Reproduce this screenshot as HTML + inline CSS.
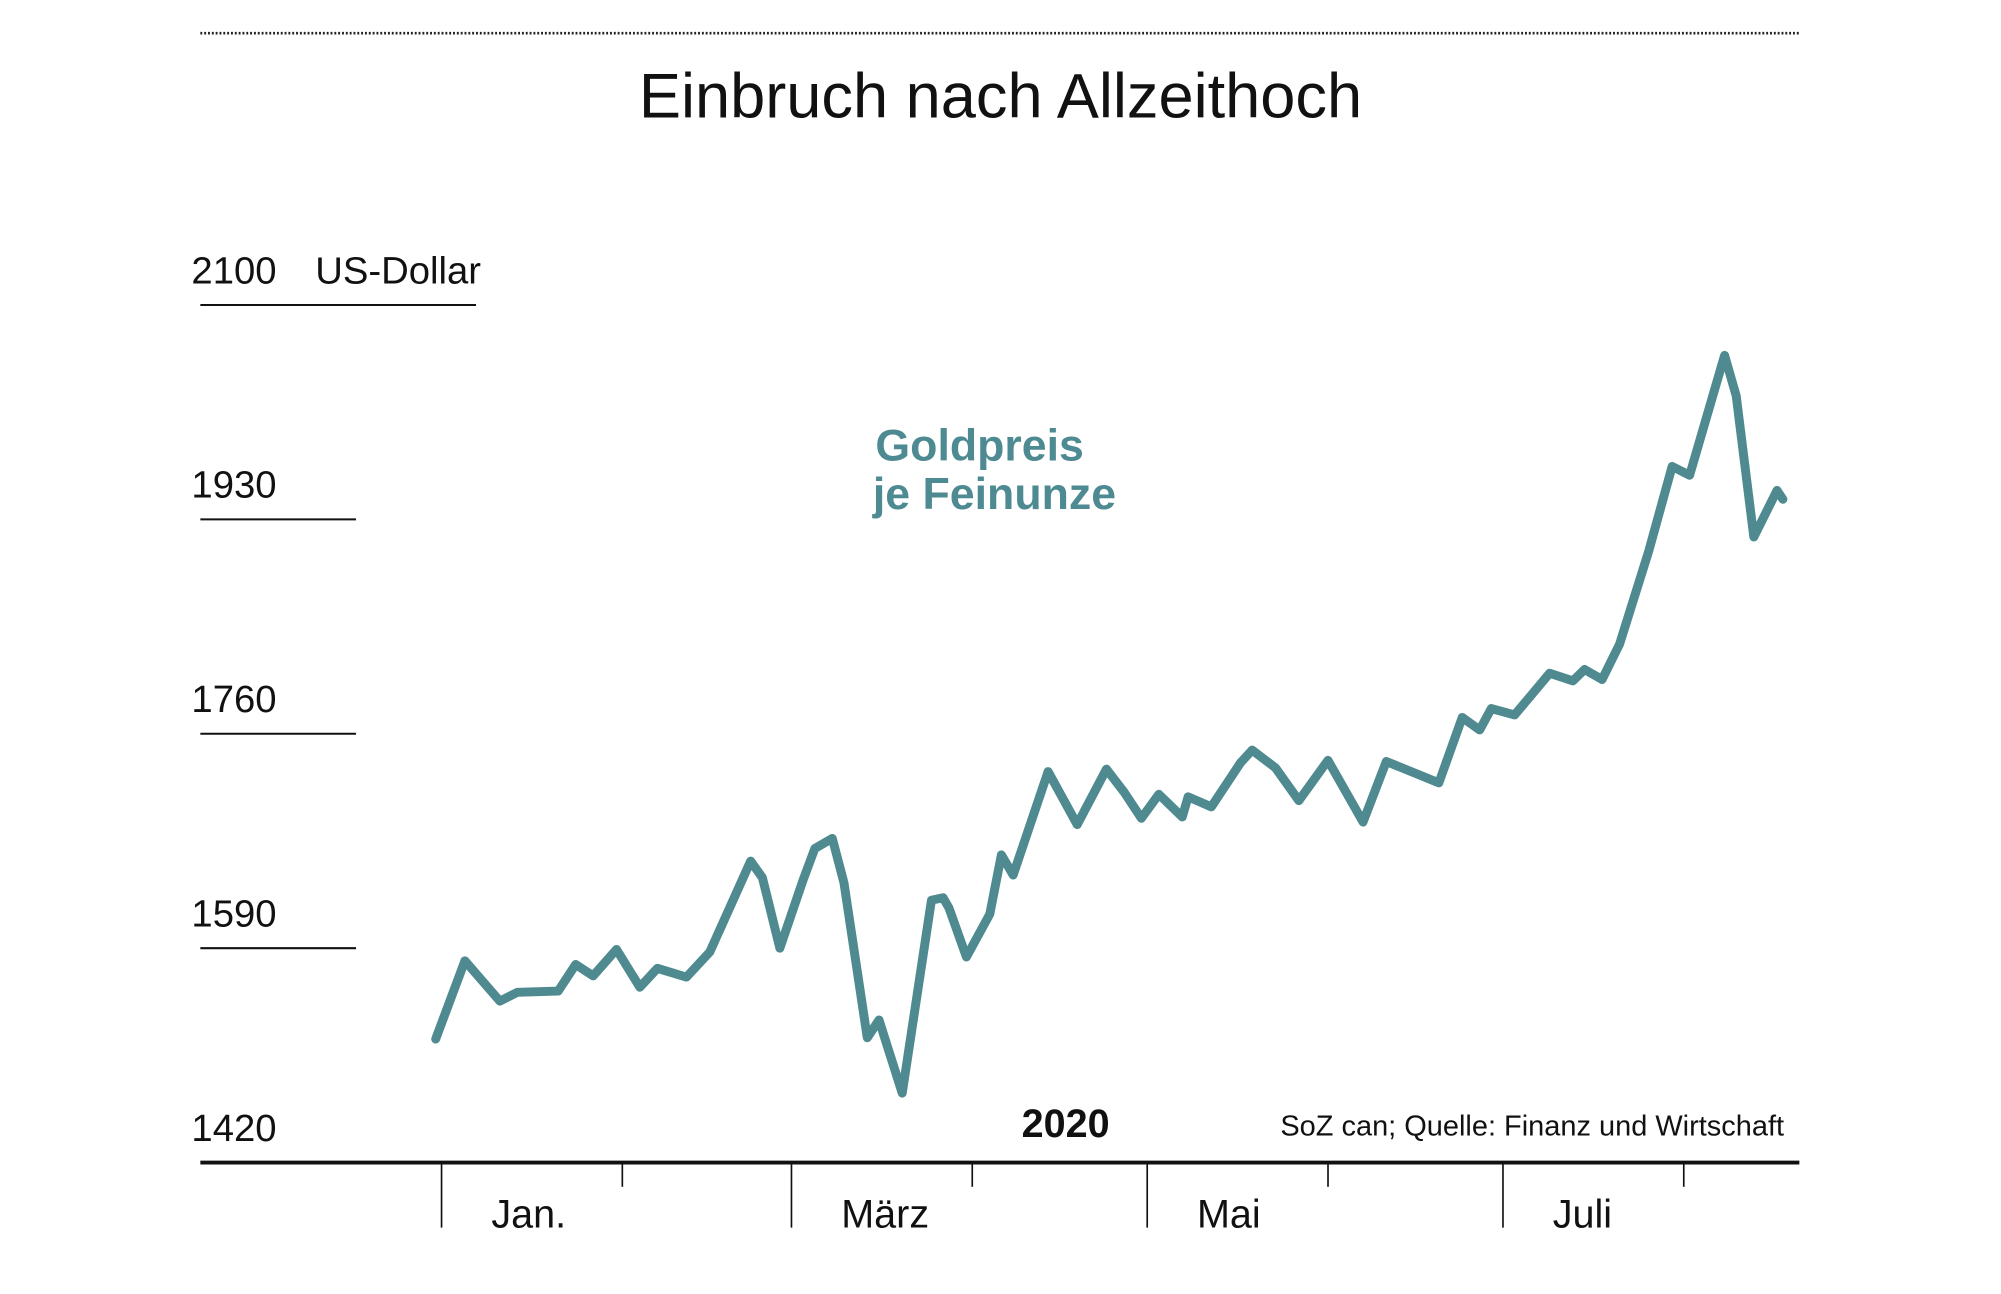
<!DOCTYPE html>
<html><head><meta charset="utf-8">
<style>
html,body{margin:0;padding:0;background:#fff;}
svg{display:block;font-family:"Liberation Sans",sans-serif;}
</style></head>
<body>
<svg id="chart" width="2001" height="1294" viewBox="0 0 1568 1014" preserveAspectRatio="none">
  <line x1="157" y1="26" x2="1410" y2="26" stroke="#222" stroke-width="2" stroke-dasharray="1.5,1.5"/>
  <text x="784" y="92" font-size="49.5" text-anchor="middle" fill="#111">Einbruch nach Allzeithoch</text>
  <text x="686" y="361" font-size="35" font-weight="bold" fill="#4e8a91">Goldpreis</text>
  <text x="684" y="399" font-size="35" font-weight="bold" fill="#4e8a91">je Feinunze</text>
  <text x="247" y="222" font-size="30" fill="#111">US-Dollar</text>
  <g id="yaxis"></g>
  <g id="xaxis"></g>
  <line x1="157" y1="911" x2="1410" y2="911" stroke="#111" stroke-width="3"/>
  <text x="835" y="891" font-size="31" font-weight="bold" text-anchor="middle" fill="#111">2020</text>
  <text x="1398" y="890" font-size="22.7" text-anchor="end" fill="#111">SoZ can; Quelle: Finanz und Wirtschaft</text>
  <path id="line" fill="none" stroke="#4e8a8f" stroke-width="7" stroke-linejoin="round" stroke-linecap="round"/>
</svg>
<script>
const days = [-1,4,10,13,20,23,26,30,34,37,42,46,53,55,58,62,64,67,69,73,75,79,84,86,87,90,94,96,98,104,109,114,117,120,123,127,128,132,137,139,143,147,152,158,162,171,175,178,180,184,190,194,196,199,202,207,211,214,220,222,225,229,230];
const prices = [1518,1580,1548,1555,1556,1577,1568,1589,1559,1574,1567,1587,1659,1646,1590,1644,1669,1677,1642,1519,1533,1475,1628,1630,1622,1583,1617,1664,1648,1730,1688,1732,1714,1693,1712,1694,1710,1702,1737,1747,1733,1707,1739,1690,1738,1721,1773,1763,1780,1775,1808,1802,1811,1803,1831,1905,1972,1965,2060,2028,1916,1953,1946];
const yTicks = [1420,1590,1760,1930,2100];
const monthLabels = ["Jan.","März","Mai","Juli"];
const monthStartDays = [0,60,121,182];
const midTickDays = [31,91,152,213];

const NS = "http://www.w3.org/2000/svg";
function xs(d){ return 346 + d*4.57; }
function ys(v){ return 911 - (v-1420)*168/170; }

const yg = document.getElementById('yaxis');
yTicks.forEach((t,i)=>{
  const y = ys(t);
  const tx = document.createElementNS(NS,'text');
  tx.setAttribute('x',150); tx.setAttribute('y',y-17);
  tx.setAttribute('font-size','30'); tx.setAttribute('fill','#111');
  tx.textContent = t;
  
  
  yg.appendChild(tx);
  if(i>0){
    const ln = document.createElementNS(NS,'line');
    ln.setAttribute('x1',157); ln.setAttribute('x2', i===yTicks.length-1?373:279);
    ln.setAttribute('y1',y); ln.setAttribute('y2',y);
    ln.setAttribute('stroke','#111'); ln.setAttribute('stroke-width','1.6');
    
    
    yg.appendChild(ln);
  }
});

const xg = document.getElementById('xaxis');
monthStartDays.forEach((d,i)=>{
  const x = xs(d);
  const ln = document.createElementNS(NS,'line');
  ln.setAttribute('x1',x); ln.setAttribute('x2',x);
  ln.setAttribute('y1',911); ln.setAttribute('y2',962);
  ln.setAttribute('stroke','#111'); ln.setAttribute('stroke-width','1.3');
  
  
  xg.appendChild(ln);
  const tx = document.createElementNS(NS,'text');
  tx.setAttribute('x',x+39); tx.setAttribute('y',962);
  tx.setAttribute('font-size','31'); tx.setAttribute('fill','#111');
  tx.textContent = monthLabels[i];
  
  
  xg.appendChild(tx);
});
midTickDays.forEach(d=>{
  const x = xs(d);
  const ln = document.createElementNS(NS,'line');
  ln.setAttribute('x1',x); ln.setAttribute('x2',x);
  ln.setAttribute('y1',911); ln.setAttribute('y2',930);
  ln.setAttribute('stroke','#111'); ln.setAttribute('stroke-width','1.3');
  
  
  xg.appendChild(ln);
});

let dstr = '';
days.forEach((d,i)=>{ dstr += (i?'L':'M') + xs(d).toFixed(1) + ',' + ys(prices[i]).toFixed(1); });
document.getElementById('line').setAttribute('d', dstr);
</script>
</body></html>
